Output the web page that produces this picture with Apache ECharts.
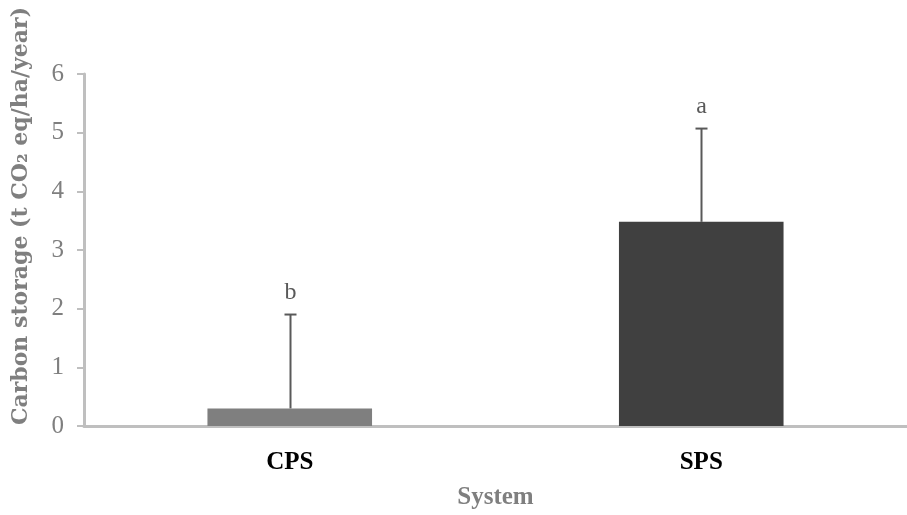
<!DOCTYPE html>
<html>
<head>
<meta charset="utf-8">
<script src="https://cdn.jsdelivr.net/npm/echarts@6/dist/echarts.min.js"></script>
<style>
  html, body { margin: 0; padding: 0; background: #ffffff; }
  #chart { width: 907px; height: 515px; }
</style>
</head>
<body>
<div id="chart"></div>
<script>
// Carbon storage by production system, with error bars and significance letters
const categories = ['CPS', 'SPS'];
const means = [0.3, 3.48];
const errorTops = [1.9, 5.07];
const letters = ['b', 'a'];
const barColors = ['#7f7f7f', '#404040'];
const yTicks = [0, 1, 2, 3, 4, 5, 6];

const serif = '"Liberation Serif", "DejaVu Serif", serif';
const titleSerif = '"DejaVu Serif", "Liberation Serif", serif';

const chart = echarts.init(document.getElementById('chart'));

chart.setOption({
  animation: false,
  grid: { left: 84, right: 0, top: 74, bottom: 87, containLabel: false },
  xAxis: {
    type: 'category',
    data: categories,
    name: 'System',
    nameLocation: 'middle',
    nameGap: 59,
    nameTextStyle: { fontFamily: serif, fontWeight: 'bold', fontSize: 25, color: '#7f7f7f' },
    axisLine: { lineStyle: { color: '#bfbfbf', width: 3 } },
    axisTick: { show: false },
    axisLabel: { margin: 24, fontFamily: serif, fontWeight: 'bold', fontSize: 25, color: '#000000' }
  },
  yAxis: {
    type: 'value',
    min: yTicks[0],
    max: yTicks[yTicks.length - 1],
    interval: 1,
    splitLine: { show: false },
    axisLine: { show: true, lineStyle: { color: '#bfbfbf', width: 3 } },
    axisTick: { show: true, length: 7, lineStyle: { color: '#bfbfbf', width: 2 } },
    axisLabel: { margin: 20, fontFamily: serif, fontSize: 25, color: '#7f7f7f' }
  },
  graphic: [{
    type: 'text',
    x: 21,
    y: 216,
    rotation: Math.PI / 2,
    style: {
      text: 'Carbon storage (t CO\u2082 eq/ha/year)',
      font: 'bold 22px ' + titleSerif,
      fill: '#7f7f7f',
      textAlign: 'center',
      textVerticalAlign: 'middle'
    }
  }],
  series: [
    {
      type: 'bar',
      barWidth: '40%',
      data: means.map((v, i) => ({ value: v, itemStyle: { color: barColors[i] } })),
      z: 2
    },
    {
      type: 'custom',
      z: 3,
      data: categories.map((c, i) => [i, means[i], errorTops[i]]),
      renderItem: function (params, api) {
        const base = api.coord([api.value(0), api.value(1)]);
        const top = api.coord([api.value(0), api.value(2)]);
        const x = Math.round(base[0]) + 0.5;
        const cap = 6;
        const stroke = { stroke: '#595959', lineWidth: 2 };
        return {
          type: 'group',
          children: [
            { type: 'line', shape: { x1: x, y1: base[1], x2: x, y2: top[1] }, style: stroke },
            { type: 'line', shape: { x1: x - cap, y1: top[1], x2: x + cap, y2: top[1] }, style: stroke },
            {
              type: 'text',
              style: {
                x: x,
                y: top[1] - 10,
                text: letters[params.dataIndex],
                font: '24px ' + serif,
                fill: '#595959',
                textAlign: 'center',
                textVerticalAlign: 'bottom'
              }
            }
          ]
        };
      }
    }
  ]
});
</script>
</body>
</html>
